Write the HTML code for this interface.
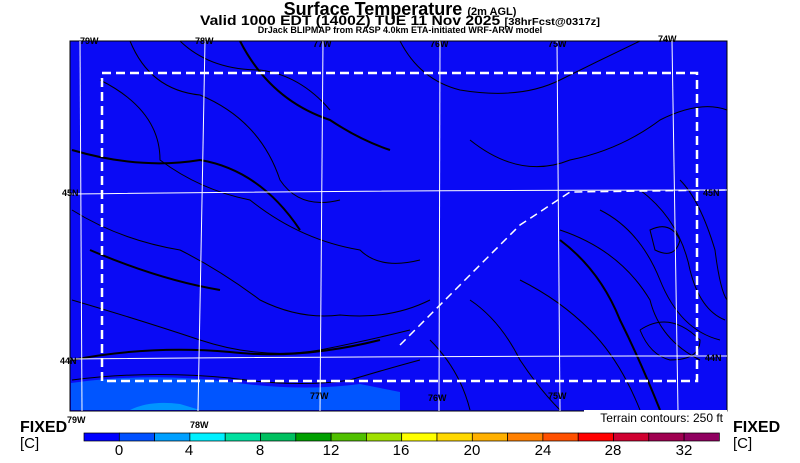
<!DOCTYPE html>
<html><head><meta charset="utf-8"><style>
body{margin:0;background:#fff;width:800px;height:458px;overflow:hidden;font-family:"Liberation Sans",sans-serif}
</style></head><body>
<svg width="800" height="458" xmlns="http://www.w3.org/2000/svg" font-family="Liberation Sans, sans-serif">
<rect width="800" height="458" fill="#fff"/>
<text x="400" y="15" text-anchor="middle" font-size="18" font-weight="bold">Surface Temperature <tspan font-size="11">(2m AGL)</tspan></text>
<text x="400" y="25" text-anchor="middle" font-size="14" font-weight="bold" textLength="400" lengthAdjust="spacingAndGlyphs">Valid 1000 EDT (1400Z) TUE 11 Nov 2025 <tspan font-size="10">[38hrFcst@0317z]</tspan></text>
<text x="400" y="33" text-anchor="middle" font-size="9" font-weight="bold">DrJack BLIPMAP from RASP 4.0km ETA-initiated WRF-ARW model</text>
<!-- map -->
<rect x="70" y="41" width="657" height="370" fill="#0a0af5" stroke="#000"/>
<path d="M71 383 Q150 372 230 382 Q300 392 360 384 L400 392 L400 410 L71 410Z" fill="#0055ff"/>
<path d="M130 410 Q150 400 180 404 L200 410Z" fill="#0095ff"/>
<g fill="none" stroke="#000" stroke-width="1">
<path d="M130 41 Q150 90 200 95 Q260 120 280 180 Q300 210 340 200"/>
<path d="M180 41 Q210 70 260 70 Q300 75 330 110"/>
<path d="M100 80 Q160 110 160 160 Q200 190 250 200 Q300 240 360 250 Q380 270 420 260"/>
<path d="M72 210 Q120 240 180 250 Q220 270 260 300 Q300 320 340 315 Q390 320 430 300"/>
<path d="M72 300 Q140 320 200 340 Q260 360 320 350 Q370 340 410 330"/>
<path d="M72 380 Q150 370 230 378 Q300 388 350 380 Q390 368 420 360"/>
<path d="M400 41 Q420 80 460 90 Q520 100 560 80 Q600 60 640 41"/>
<path d="M470 140 Q520 180 570 160 Q620 150 660 120 Q700 100 727 110"/>
<path d="M560 230 Q620 250 650 300 Q660 340 700 360"/>
<path d="M600 210 Q640 230 660 280 Q680 330 720 340"/>
<path d="M640 190 Q680 220 690 270 Q700 310 725 320"/>
<path d="M680 180 Q700 200 715 250 Q720 290 727 300"/>
<path d="M520 280 Q560 300 590 330 Q620 360 640 410"/>
<path d="M470 300 Q500 320 520 360 Q540 390 560 410"/>
<path d="M430 340 Q460 370 470 410"/>
<path d="M640 330 Q670 310 700 340 Q700 360 670 360 Q650 355 640 330"/>
<path d="M650 230 Q670 220 680 240 Q675 260 655 250Z"/>
</g>
<g fill="none" stroke="#000" stroke-width="2">
<path d="M240 41 Q270 100 330 120 Q360 140 390 150"/>
<path d="M72 150 Q140 170 200 160 Q260 170 300 230"/>
<path d="M90 250 Q160 280 220 290"/>
<path d="M72 360 Q150 345 230 352 Q300 360 380 340"/>
<path d="M560 240 Q600 270 620 320 Q640 360 660 410"/>
</g>
<!-- grid -->
<g stroke="#fff" stroke-width="1">
<line x1="80" y1="41" x2="82" y2="411"/>
<line x1="205" y1="41" x2="198" y2="411"/>
<line x1="323" y1="41" x2="320" y2="411"/>
<line x1="440" y1="41" x2="439" y2="411"/>
<line x1="557" y1="41" x2="560" y2="411"/>
<line x1="672" y1="41" x2="678" y2="411"/>
<path d="M70 194 Q400 190 727 190" fill="none"/>
<path d="M70 359 Q400 356 727 356" fill="none"/>
</g>
<path d="M400 345 L470 275 L520 225 L570 192 L727 190" fill="none" stroke="#fff" stroke-width="1.5" stroke-dasharray="8,5"/>
<rect x="102" y="73" width="595" height="308" fill="none" stroke="#fff" stroke-width="2.5" stroke-dasharray="9,5"/>
<g font-size="9" font-weight="bold" fill="#000">
<text x="80" y="44">79W</text><text x="195" y="44">78W</text><text x="313" y="47">77W</text><text x="430" y="47">76W</text><text x="548" y="47">75W</text><text x="658" y="42">74W</text>
<text x="62" y="196">45N</text><text x="703" y="196">45N</text><text x="60" y="364">44N</text><text x="705" y="361">44N</text>
<text x="310" y="399">77W</text><text x="428" y="401">76W</text><text x="548" y="399">75W</text>
<text x="67" y="423">79W</text><text x="190" y="428">78W</text>
</g>
<rect x="584" y="410" width="143" height="16" fill="#fff"/>
<text x="723" y="422" text-anchor="end" font-size="12">Terrain contours: 250 ft</text>
<!-- colorbar -->
<g stroke="#000" stroke-width="0.7">
<rect x="84" y="433" width="35.3" height="8" fill="#0000ff"/>
<rect x="119.3" y="433" width="35.3" height="8" fill="#0050ff"/>
<rect x="154.6" y="433" width="35.3" height="8" fill="#00a0ff"/>
<rect x="189.9" y="433" width="35.3" height="8" fill="#00f0ff"/>
<rect x="225.2" y="433" width="35.3" height="8" fill="#00e0a0"/>
<rect x="260.5" y="433" width="35.3" height="8" fill="#00c060"/>
<rect x="295.8" y="433" width="35.3" height="8" fill="#00a000"/>
<rect x="331.1" y="433" width="35.3" height="8" fill="#50c000"/>
<rect x="366.4" y="433" width="35.3" height="8" fill="#a0e000"/>
<rect x="401.7" y="433" width="35.3" height="8" fill="#ffff00"/>
<rect x="437" y="433" width="35.3" height="8" fill="#ffd800"/>
<rect x="472.3" y="433" width="35.3" height="8" fill="#ffb000"/>
<rect x="507.6" y="433" width="35.3" height="8" fill="#ff8000"/>
<rect x="542.9" y="433" width="35.3" height="8" fill="#ff5000"/>
<rect x="578.2" y="433" width="35.3" height="8" fill="#ff0000"/>
<rect x="613.5" y="433" width="35.3" height="8" fill="#d00030"/>
<rect x="648.8" y="433" width="35.3" height="8" fill="#a00050"/>
<rect x="684.1" y="433" width="35.3" height="8" fill="#900060"/>
</g>
<g font-size="15" text-anchor="middle">
<text x="119" y="455">0</text><text x="189" y="455">4</text><text x="260" y="455">8</text><text x="331" y="455">12</text><text x="401" y="455">16</text><text x="472" y="455">20</text><text x="543" y="455">24</text><text x="613" y="455">28</text><text x="684" y="455">32</text>
</g>
<text x="20" y="432" font-size="16" font-weight="bold">FIXED</text>
<text x="20" y="448" font-size="15">[C]</text>
<text x="733" y="432" font-size="16" font-weight="bold">FIXED</text>
<text x="733" y="448" font-size="15">[C]</text>
</svg>
</body></html>
